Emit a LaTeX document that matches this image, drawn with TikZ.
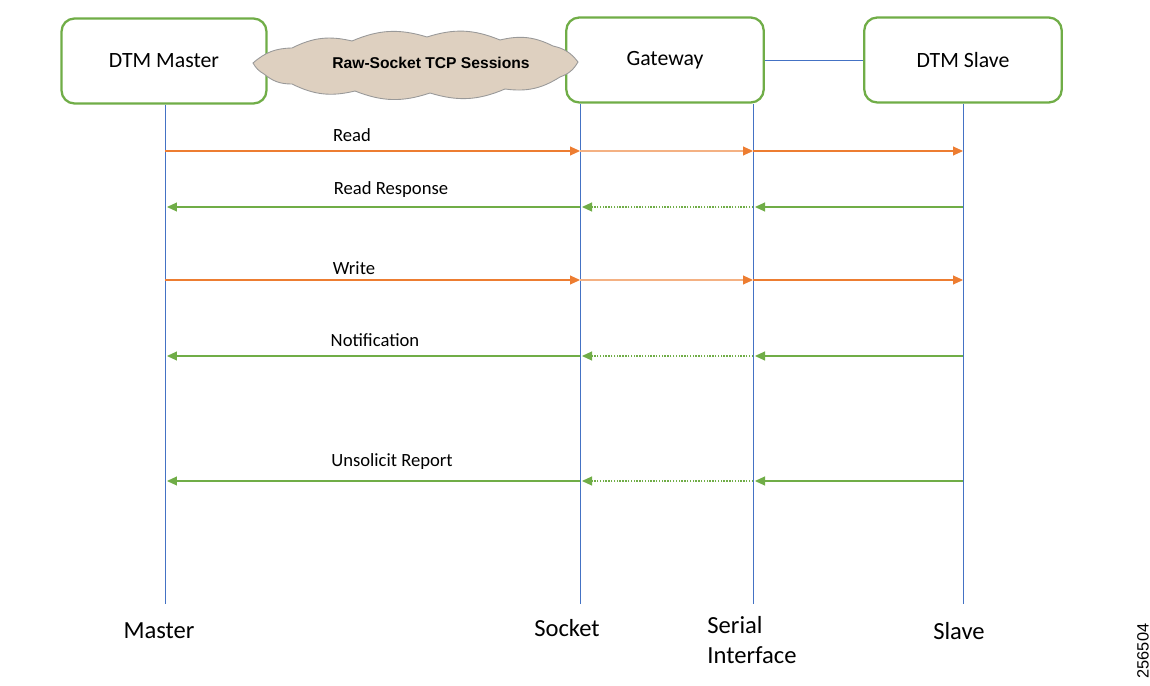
\documentclass[tikz,border=0pt]{standalone}
\usepackage{fontspec}
\setmainfont{Carlito}
\newfontfamily\arialfont{Liberation Sans}
\usepackage{xcolor}
\usepackage{tikz}
\usetikzlibrary{arrows.meta}
\definecolor{boxgreen}{HTML}{70AD47}
\definecolor{lifeblue}{HTML}{4472C4}
\definecolor{reqorange}{HTML}{ED7D31}
\definecolor{reqfaded}{HTML}{F4B183}
\definecolor{respgreen}{HTML}{70AD47}
\definecolor{cloudtan}{HTML}{DED0C0}

\begin{document}
\begin{tikzpicture}[x=0.02cm,y=-0.02cm,
  box/.style={draw=boxgreen,line width=1.3pt,rounded corners=0.26cm,fill=white,
    minimum width=3.95cm,minimum height=1.7cm,font=\fontsize{12.4}{15}\selectfont},
  life/.style={draw=lifeblue,line width=0.55pt},
  req/.style={draw=reqorange,line width=0.6pt,-{Triangle[length=0.2cm,width=0.18cm,color=reqorange]}},
  resp/.style={draw=respgreen,line width=0.6pt,-{Triangle[length=0.2cm,width=0.18cm,color=respgreen]}},
  msg/.style={font=\fontsize{10.6}{12}\selectfont,inner sep=1pt},
  end/.style={font=\fontsize{14}{17}\selectfont,inner sep=1pt},
  puff/.style={bend left=20}]
\useasboundingbox (0,0) rectangle (1150,686);

% boxes on top
\node[box,minimum width=4.1cm] (dtmm) at (164,61) {DTM Master};
\node[box] (gw) at (665,60) {Gateway};
\node[box] (dtms) at (963,60) {DTM Slave};
\draw[life] (gw.east) -- (dtms.west);
% cloud
\draw[gray!80,fill=cloudtan,line width=0.5pt]
  (253,63) to[puff] (292,48) to[puff] (352,41) to[puff] (427,37) to[puff] (500,40)
  to[puff] (553,46) to[puff] (578,62) to[puff] (560,77) to[puff] (505,89)
  to[puff] (430,93) to[puff] (355,91) to[puff] (292,84) to[puff] (264,74)
  to[bend left=15] cycle;
\node[font=\arialfont\bfseries\fontsize{8.9}{11}\selectfont] (tcp) at (431,63) {Raw-Socket TCP Sessions};

% lifelines
\coordinate (mb) at (165,604);
\coordinate (sb) at (580,604);
\coordinate (ib) at (753,604);
\coordinate (vb) at (963,604);
\draw[life] (dtmm.south -| mb) -- (mb);
\draw[life] (gw.south -| sb) -- (sb);
\draw[life] (gw.south -| ib) -- (ib);
\draw[life] (dtms.south) -- (vb);

\foreach \y [count=\i] in {151,207,280,356,481} {
  \coordinate (m\i) at (165,\y);
  \coordinate (s\i) at (580,\y);
  \coordinate (i\i) at (753,\y);
  \coordinate (v\i) at (963,\y);
}

% master -> slave
\foreach \i in {1,3} {
  \draw[req] (m\i) -- (s\i);
  \draw[req,draw=reqfaded] (s\i) -- (i\i);
  \draw[req] (i\i) -- (v\i);
}
% slave -> master
\foreach \i in {2,4,5} {
  \draw[resp] (v\i) -- ([xshift=0.04cm]i\i);
  \draw[resp,dash pattern=on 0.8pt off 0.8pt] (i\i) -- ([xshift=0.04cm]s\i);
  \draw[resp] (s\i) -- ([xshift=0.04cm]m\i);
}

\node[msg] (lread) at (352,135) {Read};
\node[msg] (lresp) at (391,190) {Read Response};
\node[msg] (lwrite) at (354,268) {Write};
\node[msg] (lnote) at (375,340) {Notification};
\node[msg] (lrep) at (392,462) {Unsolicit Report};

\node[end] (emaster) at (159,631) {Master};
\node[end] (esocket) at (567,628) {Socket};
\node[end,align=left] (eserial) at (752,640) {Serial\\Interface};
\node[end] (eslave) at (959,631) {Slave};

\node[font=\arialfont\fontsize{9.3}{11}\selectfont,rotate=90] (fig) at (1143,651) {256504};
\end{tikzpicture}
\end{document}
